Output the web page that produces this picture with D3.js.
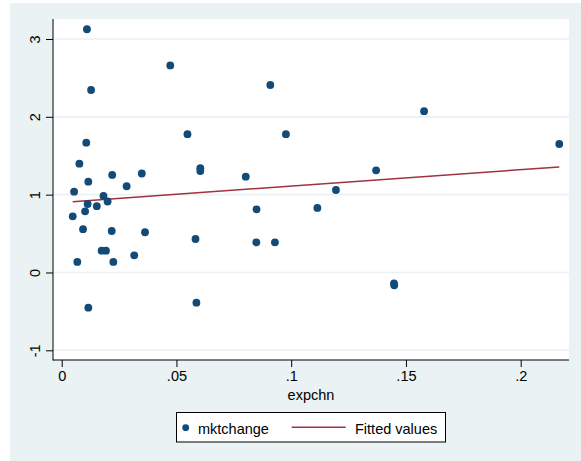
<!DOCTYPE html>
<html>
<head>
<meta charset="utf-8">
<script src="https://cdn.jsdelivr.net/npm/d3@7"></script>
<style>
  html, body { margin: 0; padding: 0; background: #ffffff; }
  svg { display: block; font-family: "Liberation Sans", Arial, sans-serif; }
</style>
</head>
<body>
<svg id="chart" width="581" height="461"></svg>
<script>
// ---- data ----
const expchn = [0.0110, 0.0128, 0.0107, 0.0077, 0.0220, 0.0116, 0.0283, 0.0054, 0.0182, 0.0200,
                0.0113, 0.0153, 0.0102, 0.0048, 0.0093, 0.0218, 0.0174, 0.0193, 0.0068, 0.0225,
                0.0316, 0.0116, 0.0473, 0.0548, 0.0349, 0.0604, 0.0604, 0.0802, 0.0849, 0.0363,
                0.0583, 0.0848, 0.0929, 0.0909, 0.0977, 0.1370, 0.1195, 0.1114, 0.1448, 0.1449,
                0.1579, 0.2168, 0.0587];
const mktchange = [3.125, 2.345, 1.668, 1.398, 1.253, 1.167, 1.108, 1.038, 0.983, 0.912,
                   0.880, 0.852, 0.786, 0.722, 0.556, 0.533, 0.280, 0.280, 0.135, 0.135,
                   0.221, -0.452, 2.660, 1.777, 1.272, 1.340, 1.304, 1.231, 0.812, 0.517,
                   0.430, 0.388, 0.388, 2.409, 1.777, 1.313, 1.060, 0.829, -0.139, -0.165,
                   2.072, 1.651, -0.388];
const fitX = [0.0048, 0.2168];
const fitY = [0.910, 1.356];
const xTicks = [0, 0.05, 0.1, 0.15, 0.2];
const xTickLabels = ["0", ".05", ".1", ".15", ".2"];
const yTicks = [-1, 0, 1, 2, 3];
const yTickLabels = ["-1", "0", "1", "2", "3"];
const xTitle = "expchn";
const legendLabels = ["mktchange", "Fitted values"];

// ---- layout ----
const svg = d3.select("#chart");
const plot = { left: 53, right: 569, top: 19, bottom: 360 };
const navy = "#124a78", maroon = "#a0323c", bg = "#eaf2f3";
const fs = "14.5px";

const x = d3.scaleLinear().domain([0, 0.2]).range([61.7, 520.7]);
const y = d3.scaleLinear().domain([-1, 3]).range([350.3, 39]);

// graph region background
svg.append("rect").attr("x", 10).attr("y", 3).attr("width", 571).attr("height", 458).attr("fill", bg);
// plot region
svg.append("rect").attr("x", plot.left).attr("y", plot.top)
  .attr("width", plot.right - plot.left).attr("height", plot.bottom - plot.top).attr("fill", "#ffffff");

// gridlines
svg.append("g").selectAll("line").data(yTicks).join("line")
  .attr("x1", plot.left).attr("x2", plot.right)
  .attr("y1", d => y(d)).attr("y2", d => y(d))
  .attr("stroke", bg).attr("stroke-width", 1.6);

// axes
const xAxis = d3.axisBottom(x).tickValues(xTicks)
  .tickFormat((d, i) => xTickLabels[i]).tickSize(7).tickPadding(4);
const gx = svg.append("g").attr("transform", `translate(0,${plot.bottom})`).call(xAxis);
gx.select(".domain").remove();
gx.selectAll(".tick line").attr("stroke", "#000");
gx.selectAll(".tick text").attr("font-size", fs).attr("font-family", "Liberation Sans, Arial, sans-serif").attr("fill", "#000");

const yAxis = d3.axisLeft(y).tickValues(yTicks)
  .tickFormat((d, i) => yTickLabels[i]).tickSize(7).tickPadding(0);
const gy = svg.append("g").attr("transform", `translate(${plot.left},0)`).call(yAxis);
gy.select(".domain").remove();
gy.selectAll(".tick line").attr("stroke", "#000");
gy.selectAll(".tick text")
  .attr("font-size", fs).attr("font-family", "Liberation Sans, Arial, sans-serif").attr("fill", "#000")
  .attr("x", null).attr("dy", null)
  .attr("text-anchor", "middle")
  .attr("transform", "translate(-13,0) rotate(-90)");

// axis lines
svg.append("line").attr("x1", plot.left).attr("x2", plot.left).attr("y1", plot.top).attr("y2", plot.bottom + 0.5)
  .attr("stroke", "#000").attr("stroke-width", 1);
svg.append("line").attr("x1", plot.left).attr("x2", plot.right).attr("y1", plot.bottom).attr("y2", plot.bottom)
  .attr("stroke", "#000").attr("stroke-width", 1);

// axis title
svg.append("text").attr("x", (plot.left + plot.right) / 2).attr("y", 400)
  .attr("text-anchor", "middle").attr("font-size", fs).attr("fill", "#000").text(xTitle);

// fitted line
svg.append("path")
  .datum(fitX.map((v, i) => [v, fitY[i]]))
  .attr("d", d3.line().x(d => x(d[0])).y(d => y(d[1])))
  .attr("fill", "none").attr("stroke", maroon).attr("stroke-width", 1.5);

// scatter points
svg.append("g").selectAll("circle").data(expchn.map((v, i) => [v, mktchange[i]])).join("circle")
  .attr("cx", d => x(d[0])).attr("cy", d => y(d[1])).attr("r", 3.9).attr("fill", navy);

// legend
const lg = svg.append("g");
lg.append("rect").attr("x", 176.5).attr("y", 412.5).attr("width", 269).attr("height", 29.5)
  .attr("fill", "#fff").attr("stroke", "#000").attr("stroke-width", 1);
lg.append("circle").attr("cx", 185.7).attr("cy", 427.7).attr("r", 3.4).attr("fill", navy);
lg.append("text").attr("x", 198).attr("y", 433.5).attr("font-size", fs).attr("fill", "#000").text(legendLabels[0]);
lg.append("line").attr("x1", 291.7).attr("x2", 345.7).attr("y1", 427.3).attr("y2", 427.3)
  .attr("stroke", maroon).attr("stroke-width", 1.5);
lg.append("text").attr("x", 355).attr("y", 433.5).attr("font-size", fs).attr("fill", "#000").text(legendLabels[1]);
</script>
</body>
</html>
